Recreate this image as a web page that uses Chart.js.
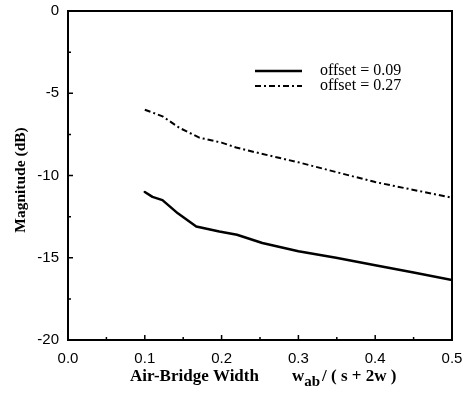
<!DOCTYPE html>
<html>
<head>
<meta charset="utf-8">
<script src="https://cdn.jsdelivr.net/npm/chart.js@4"></script>
<style>
  html, body { margin: 0; padding: 0; background: #fff; }
  #wrap { width: 464px; height: 398px; }
</style>
</head>
<body>
<div id="wrap"><canvas id="chart" width="464" height="398"></canvas></div>
<script>
// Данные кривых
const xTicks = [0.0, 0.1, 0.2, 0.3, 0.4, 0.5];
const yTicks = [0, -5, -10, -15, -20];

const widthSolid = [0.10, 0.11, 0.123, 0.143, 0.167, 0.197, 0.22, 0.253, 0.30, 0.349, 0.40, 0.45, 0.50];
const magSolid = [-11.0, -11.3, -11.5, -12.3, -13.1, -13.4, -13.6, -14.1, -14.6, -15.0, -15.45, -15.9, -16.35];

const widthDash = [0.10, 0.123, 0.145, 0.171, 0.20, 0.219, 0.236, 0.30, 0.40, 0.50];
const magDash = [-6.0, -6.4, -7.1, -7.7, -8.0, -8.3, -8.5, -9.2, -10.4, -11.35];

const seriesLabels = ['offset = 0.09', 'offset = 0.27'];

const serif = '"Liberation Serif", "DejaVu Serif", serif';
const sans = '"Liberation Sans", Arial, sans-serif';

function toPoints(xs, ys) {
    return xs.map((x, i) => ({ x: x, y: ys[i] }));
}

// Рамка, внутренние засечки, подписи осей и легенда
const decorPlugin = {
    id: 'decor',
    afterDraw(chart) {
        const ctx = chart.ctx;
        const a = chart.chartArea;
        const xs = chart.scales.x;
        const ys = chart.scales.y;
        ctx.save();
        ctx.strokeStyle = '#000';
        ctx.lineWidth = 2;
        ctx.strokeRect(a.left, a.top, a.right - a.left, a.bottom - a.top);

        ctx.lineWidth = 1.5;
        ctx.beginPath();
        for (let v = 0; v <= 0.5001; v += 0.05) {
            const px = xs.getPixelForValue(v);
            const major = Math.abs(v * 10 - Math.round(v * 10)) < 0.01;
            const len = major ? 5 : 3;
            ctx.moveTo(px, a.bottom);
            ctx.lineTo(px, a.bottom - len);
        }
        for (let v = 0; v >= -20; v -= 2.5) {
            const py = ys.getPixelForValue(v);
            const major = v % 5 === 0;
            const len = major ? 5 : 3;
            ctx.moveTo(a.left, py);
            ctx.lineTo(a.left + len, py);
        }
        ctx.stroke();

        // Подпись оси Y
        ctx.fillStyle = '#000';
        ctx.font = 'bold 15.5px ' + serif;
        ctx.textAlign = 'center';
        ctx.textBaseline = 'middle';
        ctx.save();
        ctx.translate(21, 180);
        ctx.rotate(-Math.PI / 2);
        ctx.fillText('Magnitude (dB)', 0, 0);
        ctx.restore();

        // Подпись оси X с индексом
        ctx.textAlign = 'left';
        ctx.textBaseline = 'alphabetic';
        const base = 381;
        let cx = 130;
        ctx.font = 'bold 17px ' + serif;
        ctx.fillText('Air-Bridge Width', cx, base);
        cx = 292;
        ctx.fillText('w', cx, base);
        cx += ctx.measureText('w').width;
        ctx.font = 'bold 15px ' + serif;
        ctx.fillText('ab', cx, base + 5);
        cx += ctx.measureText('ab').width + 2;
        ctx.font = 'bold 17px ' + serif;
        ctx.fillText('/ ( s + 2w )', cx, base);

        // Легенда
        ctx.font = '16px ' + serif;
        ctx.textBaseline = 'middle';
        const rows = [71, 86];
        chart.data.datasets.forEach((ds, i) => {
            ctx.beginPath();
            ctx.lineWidth = ds.borderWidth;
            ctx.setLineDash(ds.borderDash || []);
            ctx.moveTo(255, rows[i]);
            ctx.lineTo(302, rows[i]);
            ctx.stroke();
            ctx.setLineDash([]);
            ctx.fillText(seriesLabels[i], 320, rows[i]);
        });
        ctx.restore();
    }
};

const chart = new Chart(document.getElementById('chart'), {
    type: 'line',
    data: {
        datasets: [
            {
                label: seriesLabels[0],
                data: toPoints(widthSolid, magSolid),
                borderColor: '#000',
                borderWidth: 2.5,
                borderJoinStyle: 'round',
                borderCapStyle: 'round',
                pointRadius: 0,
                tension: 0
            },
            {
                label: seriesLabels[1],
                data: toPoints(widthDash, magDash),
                borderColor: '#000',
                borderWidth: 2,
                borderDash: [6, 3, 2, 3],
                pointRadius: 0,
                tension: 0
            }
        ]
    },
    options: {
        responsive: false,
        animation: false,
        layout: { padding: { top: 11, right: 12, bottom: 0, left: 0 } },
        plugins: {
            legend: { display: false },
            tooltip: { enabled: false }
        },
        scales: {
            x: {
                type: 'linear',
                min: 0,
                max: 0.5,
                afterFit: s => { s.height = 58; s.paddingLeft = 0; s.paddingRight = 0; },
                afterBuildTicks: s => { s.ticks = xTicks.map(v => ({ value: v })); },
                grid: { display: false, drawTicks: false },
                border: { display: false },
                ticks: {
                    color: '#000',
                    padding: 10,
                    maxRotation: 0,
                    font: { family: sans, size: 15 },
                    callback: v => v.toFixed(1)
                }
            },
            y: {
                type: 'linear',
                min: -20,
                max: 0,
                afterFit: s => { s.width = 68; s.paddingTop = 0; s.paddingBottom = 0; },
                afterBuildTicks: s => { s.ticks = yTicks.map(v => ({ value: v })); },
                grid: { display: false, drawTicks: false },
                border: { display: false },
                ticks: {
                    color: '#000',
                    padding: 9,
                    font: { family: sans, size: 15 },
                    callback: v => String(v)
                }
            }
        }
    },
    plugins: [decorPlugin]
});
</script>
</body>
</html>
